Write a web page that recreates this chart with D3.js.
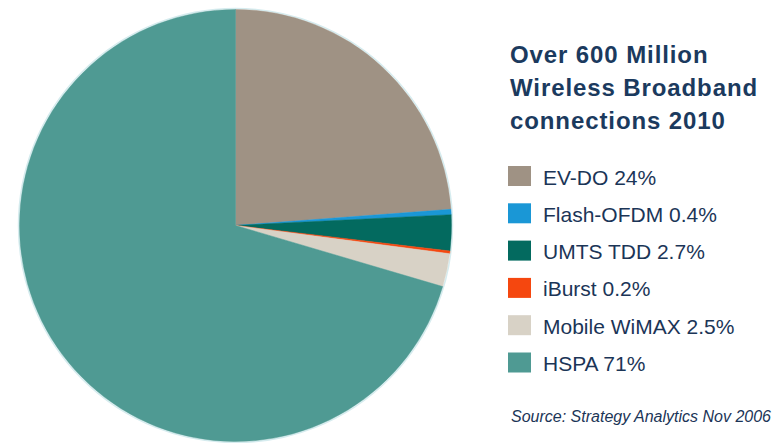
<!DOCTYPE html>
<html>
<head>
<meta charset="utf-8">
<script src="https://cdn.jsdelivr.net/npm/d3@7/dist/d3.min.js"></script>
<style>
  html, body { margin: 0; padding: 0; background: #fff; }
  svg { display: block; font-family: "Liberation Sans", Arial, sans-serif; }
</style>
</head>
<body>
<svg id="chart" width="774" height="443"></svg>
<script>
const categories = ["EV-DO", "Flash-OFDM", "UMTS TDD", "iBurst", "Mobile WiMAX", "HSPA"];
const values = [24, 0.4, 2.7, 0.2, 2.5, 71];
const legendLabels = ["EV-DO 24%", "Flash-OFDM 0.4%", "UMTS TDD 2.7%", "iBurst 0.2%", "Mobile WiMAX 2.5%", "HSPA 71%"];
const colors = ["#9f9284", "#1a97d6", "#036a5f", "#f5470f", "#d8d2c6", "#4f9a93"];
const titleLines = ["Over 600 Million", "Wireless Broadband", "connections 2010"];
const sourceText = "Source: Strategy Analytics Nov 2006";

const svg = d3.select("#chart");
const cx = 235.5, cy = 225.5, r = 216;

const data = categories.map((c, i) => ({ name: c, value: values[i], color: colors[i], label: legendLabels[i] }));
const pie = d3.pie().sort(null).value(d => d.value);
const arc = d3.arc().innerRadius(0).outerRadius(r);

const g = svg.append("g").attr("transform", `translate(${cx},${cy})`);
g.append("circle").attr("r", r + 1).attr("fill", "none").attr("stroke", "#d6ecef").attr("stroke-width", 1.5);
g.selectAll("path.slice").data(pie(data)).join("path")
  .attr("class", "slice")
  .attr("d", arc)
  .attr("fill", d => d.data.color)
  .attr("stroke", d => d.data.color)
  .attr("stroke-width", 0.5);

const titleColor = "#1b3a5e";
svg.append("g").selectAll("text").data(titleLines).join("text")
  .attr("x", 510)
  .attr("y", (d, i) => 63 + i * 33)
  .attr("font-size", 24)
  .attr("font-weight", "bold")
  .attr("letter-spacing", 0.9)
  .attr("fill", titleColor)
  .text(d => d);

const leg = svg.append("g");
const rowY = d3.scaleBand().domain(categories).range([166, 166 + 6 * 37.3]);
const rows = leg.selectAll("g").data(data).join("g")
  .attr("transform", d => `translate(508,${rowY(d.name)})`);
rows.append("rect").attr("width", 23).attr("height", 20).attr("fill", d => d.color);
rows.append("text")
  .attr("x", 35).attr("y", 18.5)
  .attr("font-size", 21)
  .attr("fill", "#1b3557")
  .text(d => d.label);

svg.append("text")
  .attr("x", 511).attr("y", 422)
  .attr("font-size", 16)
  .attr("font-style", "italic")
  .attr("fill", "#1b3557")
  .text(sourceText);
</script>
</body>
</html>
